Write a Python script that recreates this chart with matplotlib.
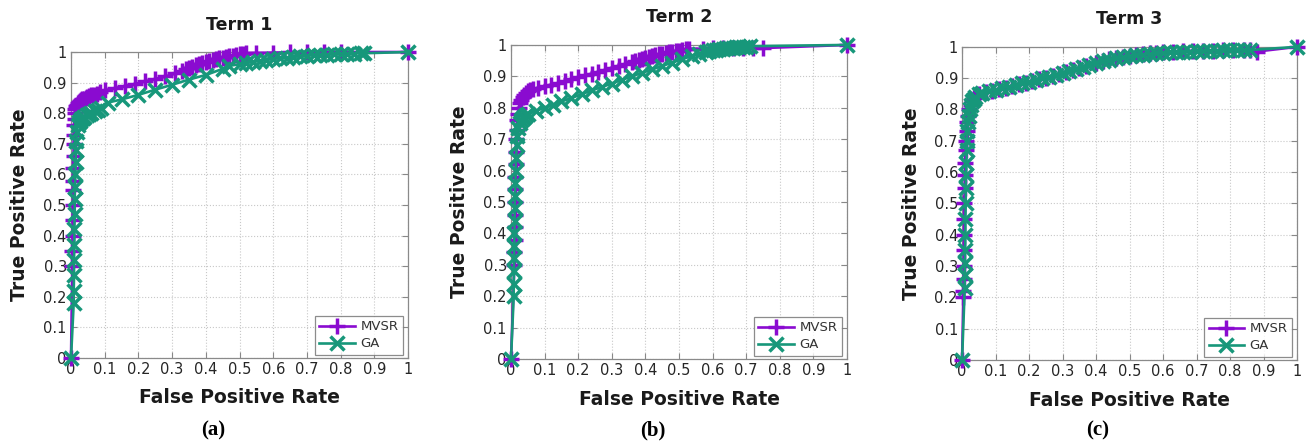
import matplotlib
matplotlib.use("Agg")
import matplotlib.pyplot as plt

# ---------------- data ----------------
titles = ["Term 1", "Term 2", "Term 3"]
panel_tags = ["(a)", "(b)", "(c)"]
series_names = ["MVSR", "GA"]
tick_vals = [0, 0.1, 0.2, 0.3, 0.4, 0.5, 0.6, 0.7, 0.8, 0.9, 1]
tick_labels = ["0", "0.1", "0.2", "0.3", "0.4", "0.5", "0.6", "0.7", "0.8", "0.9", "1"]

# Term 1
t1_mvsr_fpr = [0, 0.004, 0.004, 0.005, 0.005, 0.006, 0.006, 0.007, 0.007, 0.008,
               0.008, 0.009, 0.010, 0.011, 0.012, 0.013, 0.015, 0.017, 0.020, 0.023,
               0.026, 0.030, 0.034, 0.038, 0.043, 0.048, 0.054, 0.060, 0.068, 0.076,
               0.085, 0.100, 0.130, 0.160, 0.190, 0.220, 0.250, 0.280, 0.310, 0.330,
               0.340, 0.350, 0.360, 0.370, 0.380, 0.390, 0.400, 0.410, 0.420, 0.430,
               0.440, 0.450, 0.460, 0.470, 0.480, 0.490, 0.500, 0.510, 0.520, 0.550,
               0.600, 0.650, 0.700, 0.750, 0.800, 1.0]
t1_mvsr_tpr = [0, 0.30, 0.35, 0.40, 0.45, 0.50, 0.55, 0.58, 0.62, 0.66,
               0.70, 0.73, 0.76, 0.78, 0.80, 0.815, 0.823, 0.828, 0.833, 0.836,
               0.839, 0.842, 0.845, 0.848, 0.851, 0.853, 0.856, 0.858, 0.861, 0.864,
               0.868, 0.875, 0.882, 0.889, 0.896, 0.904, 0.912, 0.920, 0.930, 0.938,
               0.943, 0.948, 0.952, 0.956, 0.960, 0.964, 0.967, 0.970, 0.973, 0.976,
               0.979, 0.982, 0.984, 0.986, 0.988, 0.990, 0.992, 0.994, 0.996, 0.997,
               0.998, 0.999, 1.0, 1.0, 1.0, 1.0]
t1_ga_fpr = [0, 0.008, 0.008, 0.009, 0.009, 0.010, 0.010, 0.011, 0.011, 0.012,
             0.013, 0.014, 0.015, 0.016, 0.018, 0.020, 0.023, 0.026, 0.030, 0.035,
             0.040, 0.046, 0.053, 0.060, 0.070, 0.080, 0.090, 0.110, 0.150, 0.200,
             0.250, 0.300, 0.350, 0.400, 0.450, 0.470, 0.500, 0.520, 0.540, 0.560,
             0.580, 0.600, 0.620, 0.640, 0.660, 0.680, 0.700, 0.720, 0.740, 0.760,
             0.780, 0.800, 0.820, 0.840, 0.860, 0.870, 1.0]
t1_ga_tpr = [0, 0.18, 0.22, 0.27, 0.32, 0.37, 0.42, 0.47, 0.52, 0.56,
             0.60, 0.64, 0.68, 0.71, 0.74, 0.76, 0.770, 0.776, 0.781, 0.785,
             0.789, 0.793, 0.797, 0.801, 0.806, 0.812, 0.818, 0.835, 0.845, 0.860,
             0.877, 0.893, 0.910, 0.925, 0.945, 0.955, 0.960, 0.964, 0.967, 0.971,
             0.974, 0.977, 0.980, 0.982, 0.984, 0.986, 0.988, 0.989, 0.990, 0.991,
             0.992, 0.993, 0.994, 0.995, 0.996, 0.996, 1.0]

# Term 2
t2_mvsr_fpr = [0, 0.010, 0.010, 0.011, 0.011, 0.012, 0.012, 0.013, 0.013, 0.014,
               0.015, 0.016, 0.017, 0.019, 0.021, 0.024, 0.027, 0.031, 0.035, 0.040,
               0.045, 0.050, 0.056, 0.065, 0.080, 0.100, 0.120, 0.140, 0.160, 0.180,
               0.200, 0.220, 0.240, 0.260, 0.280, 0.300, 0.320, 0.340, 0.360, 0.370,
               0.380, 0.390, 0.400, 0.410, 0.420, 0.430, 0.440, 0.450, 0.460, 0.470,
               0.480, 0.490, 0.500, 0.510, 0.520, 0.530, 0.570, 0.600, 0.630, 0.660,
               0.690, 0.720, 0.750, 1.0]
t2_mvsr_tpr = [0, 0.30, 0.34, 0.38, 0.42, 0.46, 0.50, 0.54, 0.58, 0.62,
               0.66, 0.70, 0.73, 0.76, 0.78, 0.80, 0.815, 0.826, 0.835, 0.842,
               0.848, 0.852, 0.856, 0.860, 0.864, 0.869, 0.874, 0.879, 0.885, 0.891,
               0.897, 0.903, 0.909, 0.915, 0.921, 0.928, 0.934, 0.940, 0.946, 0.949,
               0.952, 0.955, 0.958, 0.961, 0.964, 0.967, 0.970, 0.972, 0.974, 0.976,
               0.978, 0.980, 0.982, 0.984, 0.986, 0.988, 0.988, 0.989, 0.989, 0.990,
               0.990, 0.990, 0.990, 1.0]
t2_ga_fpr = [0, 0.008, 0.008, 0.009, 0.009, 0.010, 0.010, 0.011, 0.011, 0.012,
             0.013, 0.014, 0.015, 0.017, 0.019, 0.022, 0.026, 0.030, 0.035, 0.040,
             0.045, 0.050, 0.075, 0.100, 0.125, 0.150, 0.180, 0.210, 0.240, 0.270,
             0.300, 0.330, 0.360, 0.390, 0.420, 0.450, 0.480, 0.510, 0.540, 0.560,
             0.580, 0.590, 0.600, 0.610, 0.620, 0.630, 0.640, 0.650, 0.660, 0.670,
             0.680, 0.690, 0.700, 0.710, 1.0]
t2_ga_tpr = [0, 0.20, 0.24, 0.28, 0.32, 0.36, 0.40, 0.44, 0.48, 0.52,
             0.56, 0.60, 0.64, 0.68, 0.71, 0.735, 0.750, 0.760, 0.767, 0.772,
             0.776, 0.780, 0.790, 0.800, 0.810, 0.820, 0.831, 0.843, 0.855, 0.866,
             0.877, 0.889, 0.900, 0.911, 0.922, 0.933, 0.944, 0.955, 0.965, 0.972,
             0.978, 0.980, 0.983, 0.985, 0.987, 0.988, 0.989, 0.990, 0.991, 0.992,
             0.993, 0.994, 0.995, 0.996, 1.0]

# Term 3
t3_mvsr_fpr = [0, 0.004, 0.004, 0.005, 0.005, 0.006, 0.006, 0.007, 0.007, 0.008,
               0.009, 0.010, 0.011, 0.012, 0.014, 0.016, 0.019, 0.022, 0.026, 0.030,
               0.035, 0.040, 0.050, 0.070, 0.090, 0.110, 0.130, 0.150, 0.170, 0.190,
               0.210, 0.230, 0.250, 0.270, 0.290, 0.310, 0.330, 0.350, 0.370, 0.400,
               0.420, 0.440, 0.460, 0.480, 0.500, 0.520, 0.540, 0.560, 0.580, 0.600,
               0.630, 0.660, 0.690, 0.720, 0.750, 0.780, 0.810, 0.840, 0.860, 0.880,
               1.0]
t3_mvsr_tpr = [0, 0.20, 0.22, 0.26, 0.30, 0.35, 0.40, 0.45, 0.50, 0.55,
               0.59, 0.63, 0.67, 0.70, 0.73, 0.76, 0.78, 0.80, 0.815, 0.827,
               0.836, 0.842, 0.848, 0.855, 0.860, 0.865, 0.870, 0.875, 0.880, 0.885,
               0.890, 0.896, 0.902, 0.908, 0.914, 0.920, 0.926, 0.932, 0.940, 0.950,
               0.956, 0.961, 0.965, 0.969, 0.972, 0.975, 0.977, 0.979, 0.981, 0.983,
               0.985, 0.986, 0.987, 0.988, 0.988, 0.989, 0.989, 0.990, 0.990, 0.985,
               1.0]
t3_ga_fpr = [0, 0.008, 0.008, 0.009, 0.009, 0.010, 0.010, 0.011, 0.011, 0.012,
             0.013, 0.014, 0.015, 0.016, 0.018, 0.020, 0.023, 0.026, 0.030, 0.035,
             0.040, 0.050, 0.060, 0.080, 0.100, 0.120, 0.140, 0.160, 0.180, 0.200,
             0.220, 0.240, 0.260, 0.280, 0.300, 0.320, 0.340, 0.360, 0.380, 0.400,
             0.420, 0.440, 0.460, 0.480, 0.500, 0.520, 0.540, 0.560, 0.580, 0.600,
             0.620, 0.640, 0.660, 0.680, 0.700, 0.720, 0.740, 0.760, 0.780, 0.800,
             0.820, 0.840, 0.860, 1.0]
t3_ga_tpr = [0, 0.23, 0.27, 0.31, 0.35, 0.40, 0.45, 0.50, 0.55, 0.59,
             0.63, 0.67, 0.70, 0.73, 0.76, 0.78, 0.80, 0.815, 0.826, 0.835,
             0.841, 0.848, 0.853, 0.858, 0.863, 0.868, 0.873, 0.878, 0.883, 0.888,
             0.893, 0.899, 0.905, 0.911, 0.917, 0.923, 0.929, 0.935, 0.942, 0.950,
             0.955, 0.959, 0.963, 0.967, 0.970, 0.973, 0.975, 0.977, 0.979, 0.981,
             0.982, 0.983, 0.984, 0.985, 0.986, 0.987, 0.988, 0.988, 0.989, 0.989,
             0.990, 0.990, 0.990, 1.0]

panels = [
    (t1_mvsr_fpr, t1_mvsr_tpr, t1_ga_fpr, t1_ga_tpr),
    (t2_mvsr_fpr, t2_mvsr_tpr, t2_ga_fpr, t2_ga_tpr),
    (t3_mvsr_fpr, t3_mvsr_tpr, t3_ga_fpr, t3_ga_tpr),
]

# ---------------- style ----------------
MVSR_C = "#8a0bd0"
GA_C = "#17977a"
axes_rects = [
    [0.0540, 0.2009, 0.2563, 0.6830],
    [0.3886, 0.1987, 0.2555, 0.7010],
    [0.7316, 0.1964, 0.2548, 0.6990],
]
tag_x = [213 / 1315, 653 / 1315, 1098 / 1315]

fig = plt.figure(figsize=(13.15, 4.48), dpi=100)
fig.patch.set_facecolor("white")

for i, (mx, my, gx, gy) in enumerate(panels):
    ax = fig.add_axes(axes_rects[i])
    ax.plot(mx, my, color=MVSR_C, lw=1.9, marker="+", ms=11, mew=2.5,
            label=series_names[0], clip_on=False, zorder=3)
    ax.plot(gx, gy, color=GA_C, lw=1.9, marker="x", ms=10, mew=2.5,
            label=series_names[1], clip_on=False, zorder=4)
    ax.set_xlim(0, 1)
    ax.set_ylim(0, 1)
    ax.set_xticks(tick_vals)
    ax.set_yticks(tick_vals)
    ax.set_xticklabels(tick_labels)
    ax.set_yticklabels(tick_labels)
    ax.tick_params(direction="in", length=4, width=0.8, color="#888888",
                   labelsize=10.5, labelcolor="#262626", pad=3,
                   top=True, right=True)
    ax.grid(True, linestyle=":", color="#c8c8c8", lw=0.8)
    ax.set_axisbelow(True)
    for s in ax.spines.values():
        s.set_color("#8a8a8a")
        s.set_linewidth(0.9)
    ax.set_title(titles[i], fontsize=12.5, fontweight="bold", color="#1a1a1a", y=1.045)
    ax.set_xlabel("False Positive Rate", fontsize=13.5, fontweight="bold", color="#1a1a1a")
    ax.xaxis.set_label_coords(0.5, -0.13)
    ax.xaxis.label.set_va("center")
    ax.set_ylabel("True Positive Rate", fontsize=13.5, fontweight="bold", color="#1a1a1a")
    ax.yaxis.set_label_coords(-0.152, 0.5)
    ax.yaxis.label.set_va("center")
    leg = ax.legend(loc="lower right", bbox_to_anchor=(0.985, 0.01), fontsize=9.5,
                    frameon=True, fancybox=False, edgecolor="#707070",
                    handlelength=2.7, borderpad=0.35, labelspacing=0.3,
                    handletextpad=0.4, borderaxespad=0.0)
    leg.get_frame().set_linewidth(0.9)
    for t in leg.get_texts():
        t.set_color("#333333")
    fig.text(tag_x[i], 1 - 430 / 448, panel_tags[i], ha="center", va="center",
             fontsize=15, fontweight="bold", family="Liberation Serif")

fig.savefig("out.png", dpi=100, facecolor="white")
